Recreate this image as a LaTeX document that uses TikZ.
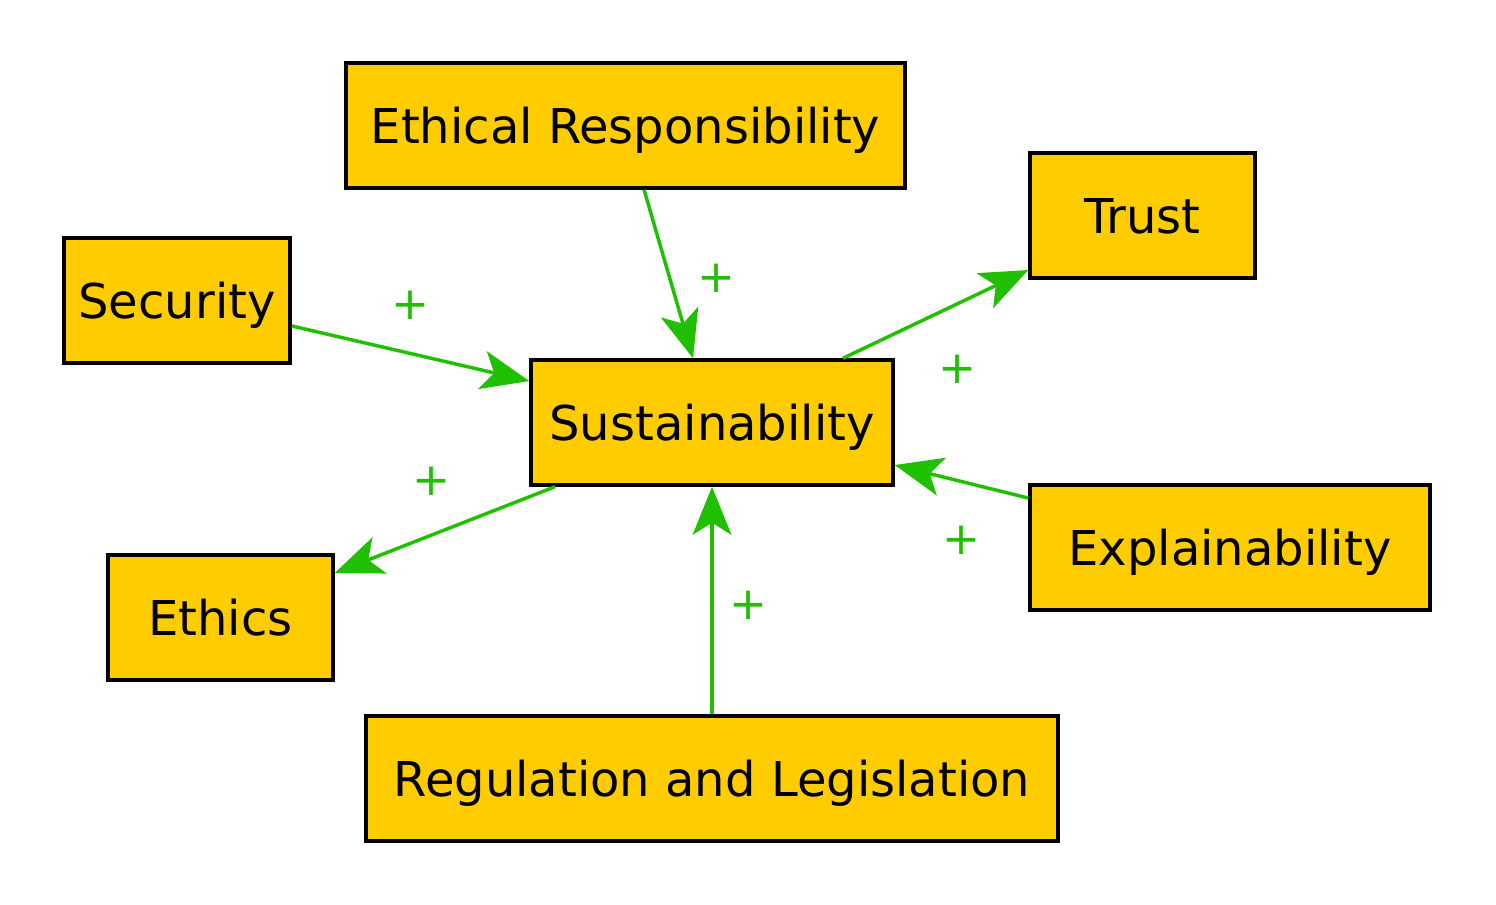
\documentclass[tikz,border=0pt]{standalone}
\usepackage{fontspec}
\setmainfont{DejaVu Sans}
\usetikzlibrary{arrows.meta}
\definecolor{boxfill}{RGB}{255,204,0}
\definecolor{arrgreen}{RGB}{32,192,0}
\tikzset{
  box/.style={draw=black, line width=2.6pt, fill=boxfill, inner sep=0pt,
    minimum height=93.75pt, text height=27.5pt, text depth=0pt,
    font=\fontsize{36}{40}\selectfont},
  link/.style={draw=arrgreen, line width=2.6pt,
    -{Stealth[length=36pt, width=29pt, inset=9pt]}},
  plus/.style={text=arrgreen, font=\fontsize{34}{36}\selectfont, inner sep=0pt}
}
\begin{document}
\begin{tikzpicture}[x=0.75pt,y=-0.75pt]
\useasboundingbox (0,0) rectangle (1496,905);
\node[box, minimum width=419.25pt] (er) at (625.5,125.5) {Ethical Responsibility};
\node[box, minimum width=168.75pt] (tr) at (1142.5,215.5) {Trust};
\node[box, minimum width=169.5pt] (se) at (177,300.5) {Security};
\node[box, minimum width=271.5pt] (su) at (712,422.5) {Sustainability};
\node[box, minimum width=300pt] (ex) at (1230,547.5) {Explainability};
\node[box, minimum width=168.75pt] (et) at (220.5,617.5) {Ethics};
\node[box, minimum width=519pt] (re) at (712,778.5) {Regulation and Legislation};

\draw[link] ([xshift=13.9pt]er.south) -- ([xshift=-14.25pt]su.north);
\draw[link] ([yshift=-19.1pt]se.east) -- ([yshift=31.1pt]su.west);
\draw[link] ([xshift=98.25pt]su.north) -- ([yshift=-40.9pt]tr.west);
\draw[link] ([yshift=37.1pt]ex.west) -- ([yshift=-31.9pt]su.east);
\draw[link] ([xshift=-117.75pt]su.south) -- ([yshift=33.4pt]et.east);
\draw[link] (re.north) -- (su.south);

\node[plus] (p1) at (716,278) {+};
\node[plus] (p2) at (410,305) {+};
\node[plus] (p3) at (957,369) {+};
\node[plus] (p4) at (961,540) {+};
\node[plus] (p5) at (431,481) {+};
\node[plus] (p6) at (748,605) {+};
\end{tikzpicture}
\end{document}
